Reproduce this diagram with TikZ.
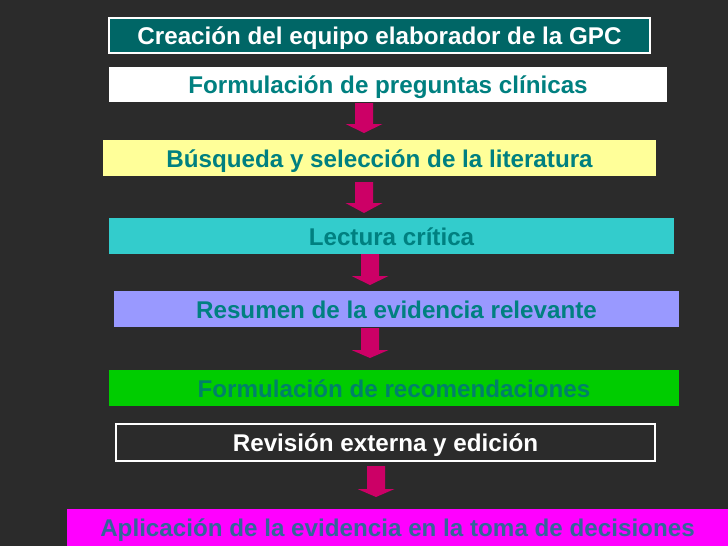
\documentclass[tikz,border=0pt]{standalone}
\usepackage{fontspec}
\setmainfont{Liberation Sans}
\definecolor{bgc}{HTML}{2B2B2B}
\definecolor{darkteal}{HTML}{006666}
\definecolor{tealtext}{HTML}{008080}
\definecolor{paleyellow}{HTML}{FFFF99}
\definecolor{turq}{HTML}{33CCCC}
\definecolor{lilac}{HTML}{9999FF}
\definecolor{brightgreen}{HTML}{00CC00}
\definecolor{greentext}{HTML}{00806A}
\definecolor{magentabox}{HTML}{FF00FF}
\definecolor{steelblue}{HTML}{336699}
\definecolor{arrowc}{HTML}{CC0066}
\begin{document}
\begin{tikzpicture}[x=1pt,y=-1pt,
  stage/.style={inner sep=0pt, outer sep=0pt, anchor=base, font=\fontsize{24.2}{28}\selectfont\bfseries},
  blockarrow/.style={fill=arrowc, draw=none}]
\useasboundingbox (0,0) rectangle (728,546);
\fill[bgc] (0,0) rectangle (728,546);
% boxes: drawn as rectangles with named text nodes
\newcommand{\stagebox}[8]{%
  % #1 name, #2 x1, #3 x2, #4 y1, #5 y2, #6 box style, #7 text colour, #8 text
  \path[#6] (#2,#4) rectangle (#3,#5);
  \node[stage, text=#7] (#1) at ({(#2+#3)/2},{(#4+#5)/2+9}) {#8};
  \coordinate (#1top) at ({(#2+#3)/2},#4);
  \coordinate (#1bot) at ({(#2+#3)/2},#5);
}
\stagebox{s1}{109}{650}{18}{53}{fill=darkteal, draw=white, line width=1.2pt}{white}{Creación del equipo elaborador de la GPC}
\stagebox{s2}{109}{667}{67}{102}{fill=white}{tealtext}{Formulación de preguntas clínicas}
\stagebox{s3}{103}{656}{140}{176}{fill=paleyellow}{tealtext}{Búsqueda y selección de la literatura}
\stagebox{s4}{109}{674}{218}{254}{fill=turq}{tealtext}{Lectura crítica}
\stagebox{s5}{114}{679}{291}{327}{fill=lilac}{tealtext}{Resumen de la evidencia relevante}
\stagebox{s6}{109}{679}{370}{406}{fill=brightgreen}{greentext}{Formulación de recomendaciones}
\stagebox{s7}{116}{655}{424}{461}{fill=bgc, draw=white, line width=1.2pt}{white}{Revisión externa y edición}
\stagebox{s8}{67}{728}{509}{546}{fill=magentabox}{steelblue}{Aplicación de la evidencia en la toma de decisiones}
% block arrows: #1 x centre, #2 top, #3 head start, #4 tip
\newcommand{\downarrowblk}[4]{%
  \path[blockarrow] (#1-9,#2) -- (#1+9,#2) -- (#1+9,#3) -- (#1+18.5,#3) -- (#1,#4)
     -- (#1-18.5,#3) -- (#1-9,#3) -- cycle;
}
\downarrowblk{364}{103}{124}{133}
\downarrowblk{364}{182}{203}{213}
\downarrowblk{370}{254}{276}{285}
\downarrowblk{370}{328}{350}{358}
\downarrowblk{376}{466}{489}{497}
\end{tikzpicture}
\end{document}
